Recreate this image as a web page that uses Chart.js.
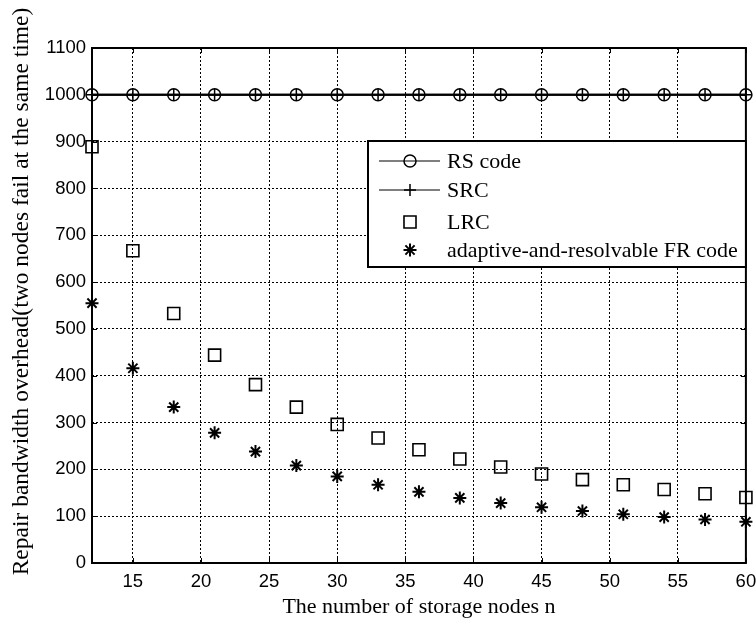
<!DOCTYPE html>
<html><head><meta charset="utf-8">
<style>html,body{margin:0;padding:0;background:#fff}#wrap{width:756px;height:621px}</style>
<script src="https://cdn.jsdelivr.net/npm/chart.js@4/dist/chart.umd.min.js"></script>
</head><body><div id="wrap"><canvas id="c" width="756" height="621"></canvas></div>
<script>
const nodes = [12,15,18,21,24,27,30,33,36,39,42,45,48,51,54,57,60];
const rsCode = [1000,1000,1000,1000,1000,1000,1000,1000,1000,1000,1000,1000,1000,1000,1000,1000,1000];
const srcCode = [1000,1000,1000,1000,1000,1000,1000,1000,1000,1000,1000,1000,1000,1000,1000,1000,1000];
const lrcCode = [889,667,533,444,381,333,296,267,242,222,205,190,178,167,157,148,140];
const frCode = [555,416,333,278,238,208,185,167,152,139,128,119,111,104,98,93,88];
const xTicks = [15,20,25,30,35,40,45,50,55,60];
const yTicks = [0,100,200,300,400,500,600,700,800,900,1000,1100];
const seriesNames = ['RS code','SRC','LRC','adaptive-and-resolvable FR code'];
const xTitle = 'The number of storage nodes n';
const yTitle = 'Repair bandwidth overhead(two nodes fail at the same time)';

const pts = arr => nodes.map((x,i)=>({x:x,y:arr[i]}));
const serif = '"Liberation Serif","Times New Roman",serif';
const sans = '"Liberation Sans",Arial,sans-serif';

const datasets = [
  {label:seriesNames[0], data:pts(rsCode), borderColor:'#000', backgroundColor:'rgba(0,0,0,0)', borderWidth:2,
   pointStyle:'circle', pointRadius:6, pointBorderWidth:1.5, pointBorderColor:'#000', pointBackgroundColor:'rgba(0,0,0,0)', showLine:true, clip:false},
  {label:seriesNames[1], data:pts(srcCode), borderColor:'#000', backgroundColor:'rgba(0,0,0,0)', borderWidth:2,
   pointStyle:'cross', pointRadius:6, pointBorderWidth:1.5, pointBorderColor:'#000', showLine:true, clip:false},
  {label:seriesNames[2], data:pts(lrcCode), borderColor:'#000', backgroundColor:'rgba(0,0,0,0)',
   pointStyle:'rect', pointRadius:8.5, pointBorderWidth:1.6, pointBorderColor:'#000', pointBackgroundColor:'rgba(0,0,0,0)', showLine:false, clip:false},
  {label:seriesNames[3], data:pts(frCode), borderColor:'#000', backgroundColor:'rgba(0,0,0,0)',
   pointStyle:'star', pointRadius:6.5, pointBorderWidth:2, pointBorderColor:'#000', showLine:false, clip:false}
];

function drawMarker(ctx, style, r, bw, x, y){
  ctx.save();
  ctx.strokeStyle='#000'; ctx.fillStyle='rgba(0,0,0,0)'; ctx.lineWidth=bw;
  if (Chart.helpers && Chart.helpers.drawPoint){
    Chart.helpers.drawPoint(ctx,{pointStyle:style,radius:r,rotation:0,borderWidth:bw},x,y);
  }
  ctx.restore();
}

const framePlugin = {
  id:'frame',
  afterDraw(chart){
    const {ctx, chartArea:a, scales:{x,y}} = chart;
    ctx.save();
    ctx.strokeStyle='#000'; ctx.lineWidth=2; ctx.setLineDash([]);
    ctx.strokeRect(a.left,a.top,a.right-a.left,a.bottom-a.top);
    ctx.lineWidth=1;
    const tl=5;
    ctx.beginPath();
    xTicks.forEach(v=>{const px=Math.round(x.getPixelForValue(v))+0.5;
      ctx.moveTo(px,a.bottom); ctx.lineTo(px,a.bottom-tl);
      ctx.moveTo(px,a.top); ctx.lineTo(px,a.top+tl);});
    yTicks.forEach(v=>{const py=Math.round(y.getPixelForValue(v))+0.5;
      ctx.moveTo(a.left,py); ctx.lineTo(a.left+tl,py);
      ctx.moveTo(a.right,py); ctx.lineTo(a.right-tl,py);});
    ctx.stroke();
    // y axis title
    ctx.save();
    ctx.translate(22, (a.top+a.bottom)/2 - 14);
    ctx.rotate(-Math.PI/2);
    ctx.font='23.5px '+serif; ctx.fillStyle='#000'; ctx.textAlign='center'; ctx.textBaseline='middle';
    ctx.fillText(yTitle,0,0);
    ctx.restore();
    // legend box
    const L=a.left+276, T=a.top+93, R=a.right, B=a.top+219;
    ctx.fillStyle='#fff'; ctx.fillRect(L,T,R-L,B-T);
    ctx.lineWidth=2; ctx.strokeRect(L,T,R-L,B-T);
    const rowY=[T+20,T+49,T+81,T+109];
    const mx=L+42, tx=L+79;
    ctx.font='22px '+serif; ctx.fillStyle='#000'; ctx.textBaseline='middle'; ctx.textAlign='left';
    datasets.forEach((d,i)=>{
      const yy=rowY[i];
      if(d.showLine){ctx.lineWidth=1.2; ctx.beginPath(); ctx.moveTo(L+11,yy); ctx.lineTo(L+72,yy); ctx.stroke();}
      drawMarker(ctx,d.pointStyle,d.pointRadius,d.pointBorderWidth,mx,yy);
      ctx.fillStyle='#000';
      ctx.fillText(d.label,tx,yy+1);
    });
    ctx.restore();
  }
};

new Chart(document.getElementById('c'),{
  type:'line',
  data:{datasets:datasets},
  plugins:[framePlugin],
  options:{
    responsive:false, animation:false, devicePixelRatio:1,
    layout:{padding:{left:0,top:48,right:9,bottom:0}},
    plugins:{legend:{display:false}, tooltip:{enabled:false}},
    scales:{
      x:{type:'linear', min:12, max:60,
        afterBuildTicks:s=>{s.ticks=xTicks.map(v=>({value:v}));},
        afterFit:s=>{s.height=58; s.paddingLeft=0; s.paddingRight=0;},
        grid:{color:'#000', lineWidth:1, drawTicks:false},
        border:{display:false, dash:[2,2]},
        ticks:{color:'#000', font:{family:sans,size:18.5}, padding:8, maxRotation:0, autoSkip:false, callback:v=>String(v)},
        title:{display:true, text:xTitle, color:'#000', font:{family:serif,size:22}, padding:{top:0,bottom:1}}
      },
      y:{type:'linear', min:0, max:1100,
        afterBuildTicks:s=>{s.ticks=yTicks.map(v=>({value:v}));},
        afterFit:s=>{s.width=92; s.paddingTop=0; s.paddingBottom=0;},
        grid:{color:'#000', lineWidth:1, drawTicks:false},
        border:{display:false, dash:[2,2]},
        ticks:{color:'#000', font:{family:sans,size:18.5}, padding:6, autoSkip:false, callback:v=>String(v)},
        title:{display:false}
      }
    }
  }
});
</script></body></html>
